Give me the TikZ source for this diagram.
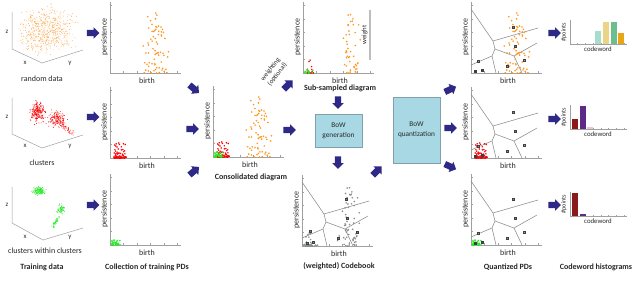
\documentclass[tikz,border=0pt]{standalone}
\usepackage{fontspec}
\setmainfont{Carlito}
\usetikzlibrary{shapes.arrows}
\definecolor{arrowc}{RGB}{46,40,134}
\definecolor{boxf}{RGB}{168,216,228}
\definecolor{boxd}{RGB}{130,160,170}
\definecolor{axc}{RGB}{160,160,160}
\definecolor{vorc}{RGB}{140,140,140}
\definecolor{txtc}{RGB}{40,40,40}
\definecolor{cOr}{RGB}{192,128,40}
\definecolor{cGr}{RGB}{80,150,110}
\definecolor{cYe}{RGB}{200,160,70}
\definecolor{cTe}{RGB}{90,160,180}
\definecolor{cPi}{RGB}{150,150,160}
\definecolor{cPu}{RGB}{70,40,140}
\definecolor{cDr}{RGB}{120,20,20}
\definecolor{tealc}{RGB}{42,163,179}
\definecolor{orpt}{RGB}{255,150,30}
\definecolor{lorpt}{RGB}{255,175,90}
\definecolor{redpt}{RGB}{250,0,0}
\definecolor{grpt}{RGB}{40,235,40}
\definecolor{hTe}{RGB}{168,220,203}
\definecolor{hYe}{RGB}{233,213,133}
\definecolor{hGr}{RGB}{107,191,142}
\definecolor{hOr}{RGB}{232,165,22}
\definecolor{hDr}{RGB}{139,26,26}
\definecolor{hPu}{RGB}{92,42,135}
\definecolor{hPi}{RGB}{232,198,212}

\tikzset{
  axisl/.style={draw=axc, line width=0.5pt},
  vorl/.style={draw=vorc, line width=0.55pt},
  lab/.style={font=\fontsize{8}{9}\selectfont, text=txtc, inner sep=0pt},
  slab/.style={font=\fontsize{6.8}{8}\selectfont, text=txtc, inner sep=0pt},
  tinylab/.style={font=\fontsize{6.2}{7}\selectfont, text=txtc, inner sep=0pt},
  capl/.style={font=\fontsize{8}{9}\selectfont, text=txtc, inner sep=0pt},
  bcap/.style={font=\bfseries\fontsize{8}{9}\selectfont, text=txtc, inner sep=0pt},
  barrow/.style={single arrow, fill=arrowc, draw=none, minimum height=12.5pt,
    minimum width=11pt, single arrow head extend=2.5pt, inner xsep=0pt,
    inner ysep=3pt},
  bowbox/.style={draw=boxd, fill=boxf, line width=0.6pt, align=center,
    font=\fontsize{7.3}{10}\selectfont, text=txtc},
  ctr/.style={draw=black!75, line width=0.2pt},
}

% PD axes: name, ox, oy
\newcommand\pdaxes[3]{%
  \draw[axisl] (#2,#3-71) -- (#2,#3) -- (#2+71,#3);
  \foreach \k in {1,...,5}{%
    \draw[axisl] (#2,#3-\k*13.5) -- ++(1.5,0);
    \draw[axisl] (#2+\k*13.5,#3) -- ++(0,-1.5);}
  \node[lab,rotate=90] (#1-p) at (#2-5.5,#3-36) {persistence};
  \node[lab] (#1-b) at (#2+37,#3+7.5) {birth};
}
% orange PD points: ox, oy, seed, n, colour
\newcommand\orangepts[5]{%
  \pgfmathsetseed{#3}%
  \foreach \i in {1,...,#4}{%
    \pgfmathsetmacro\ddy{62*rnd^1.5}%
    \pgfmathsetmacro\ddx{47+(15-8*\ddy/62)*(rnd+rnd+rnd-1.5)}%
    \fill[#5] (#1+\ddx,#2-\ddy) circle (0.9);}
}
% red PD points
\newcommand\redpts[5]{%
  \pgfmathsetseed{#3}%
  \foreach \i in {1,...,#4}{%
    \pgfmathsetmacro\ddx{4+12*rnd^1.6}%
    \pgfmathsetmacro\ddy{15*rnd^3}%
    \fill[#5] (#1+\ddx,#2-\ddy) circle (0.85);}
}
% green PD points
\newcommand\greenpts[5]{%
  \pgfmathsetseed{#3}%
  \foreach \i in {1,...,#4}{%
    \pgfmathsetmacro\ddx{1.5+9*rnd^1.3}%
    \pgfmathsetmacro\ddy{5*rnd^2}%
    \fill[#5] (#1+\ddx,#2-\ddy) circle (0.85);}
}
% Voronoi cells of the codebook
\newcommand\voronoi[2]{%
  \begin{scope}[shift={(#1,#2)}]
    \draw[vorl] (0,-64) -- (22,-32) -- (67,-45);
    \draw[vorl] (22,-32) -- (24,-24) -- (43,-17) -- (66,-30);
    \draw[vorl] (43,-17) -- (51,0);
    \draw[vorl] (24,-24) -- (21,-17) -- (0,-8);
    \draw[vorl] (21,-17) -- (25,0);
  \end{scope}}
% coloured codeword centres
\newcommand\qcenters[2]{%
  \foreach \cx/\cy/\ccol in {42/46/cOr,44/27/cGr,53/13/cYe,36/7/cTe,7/12/cPi,11/3/cPu,4/2/cDr}{%
    \filldraw[ctr, fill=\ccol] (#1+\cx-0.9,#2-\cy-0.9) rectangle ++(1.8,1.8);}}
\newcommand\tcenters[2]{%
  \foreach \cx/\cy in {44/47,45/28,55/14,36/8,8/15,11/4,5/3}{%
    \filldraw[ctr, fill=tealc] (#1+\cx-1,#2-\cy-1) rectangle ++(2,2);}}
% histogram axes: name, oy
\newcommand\histax[2]{%
  \draw[axisl] (570,#2-24) -- (570,#2) -- (627,#2);
  \foreach \k in {1,...,3}{\draw[axisl] (570,#2-\k*7) -- ++(1.3,0);}
  \foreach \k in {1,...,7}{\draw[axisl] (570+\k*7.7,#2) -- ++(0,-1.3);}
  \node[tinylab,rotate=90] (#1-p) at (564,#2-12) {\#points};
  \node[slab] (#1-c) at (598,#2+5.5) {codeword};
}

\begin{document}
\begin{tikzpicture}[x=1pt,y=-1pt]
\useasboundingbox (0,0) rectangle (640,288);
\fill[white] (0,0) rectangle (640,288);

%% ---------- training data (3D) ----------
\draw[axisl] (12,12) -- (12,49) -- (42,63) -- (83,50);
\node[slab] (z1) at (7,32) {z};
\node[slab] (x1) at (25,63) {x};
\node[slab] (y1) at (70,63) {y};
\pgfmathsetseed{11}
\foreach \i in {1,...,550}{%
  \pgfmathsetmacro\ra{0.05+0.9*rnd}%
  \pgfmathsetmacro\rb{0.05+0.9*rnd}%
  \pgfmathsetmacro\rc{0.06+0.88*rnd}%
  \fill[lorpt] (42-30*\ra+40*\rb, 62-14*\ra-13*\rb-37*\rc) circle (0.45);}
\node[capl] (t1) at (42,79) {random data};

\draw[axisl] (12,98) -- (12,134) -- (42,148) -- (83,135);
\node[slab] (z2) at (7,117) {z};
\node[slab] (x2) at (25,146) {x};
\node[slab] (y2) at (70,146) {y};
\pgfmathsetseed{21}
\foreach \i in {1,...,220}{%
  \fill[redpt] (38+7*rnd+7*rnd+7*rnd-10.5, 112+10*rnd+10*rnd+10*rnd-15) circle (0.45);}
\foreach \i in {1,...,150}{%
  \fill[redpt] (57+8*rnd+8*rnd+8*rnd-12, 119+8*rnd+8*rnd+8*rnd-12) circle (0.45);}
\foreach \i in {1,...,50}{%
  \pgfmathsetmacro\tt{rnd}%
  \fill[redpt] (61+12*\tt+3*rnd+3*rnd-3, 123+11*\tt+3*rnd+3*rnd-3) circle (0.45);}
\node[capl] (t2) at (42,163) {clusters};

\draw[axisl] (12,187) -- (12,223) -- (43,240) -- (83,228);
\node[slab] (z3) at (7,205) {z};
\node[slab] (x3) at (25,237) {x};
\node[slab] (y3) at (70,237) {y};
\pgfmathsetseed{31}
\foreach \i in {1,...,150}{%
  \fill[grpt] (39+6*rnd+6*rnd+6*rnd-9, 191+3.5*rnd+3.5*rnd+3.5*rnd-5.25) circle (0.45);}
\foreach \i in {1,...,70}{%
  \fill[grpt] (61+4*rnd+4*rnd+4*rnd-6, 209+4*rnd+4*rnd+4*rnd-6) circle (0.45);}
\foreach \i in {1,...,45}{%
  \pgfmathsetmacro\tt{rnd}%
  \fill[grpt] (52+7*\tt+2*rnd+2*rnd-2, 228-11*\tt+2*rnd+2*rnd-2) circle (0.45);}
\node[capl] (t3) at (45,251) {clusters within clusters};
\node[bcap] (h1) at (42,267) {Training data};

%% ---------- training PDs ----------
\pdaxes{pd1}{110}{73}
\orangepts{110}{73}{101}{70}{orpt}
\pdaxes{pd2}{110}{158}
\redpts{110}{158}{202}{70}{redpt}
\pdaxes{pd3}{110}{245}
\greenpts{110}{245}{303}{45}{grpt}
\node[bcap] (h2) at (147,267) {Collection of training PDs};

%% ---------- consolidated ----------
\pdaxes{cons}{213}{157}
\orangepts{213}{157}{101}{70}{orpt}
\redpts{213}{157}{202}{70}{redpt}
\greenpts{213}{157}{303}{45}{grpt}
\node[bcap] (h3) at (251,177) {Consolidated diagram};

%% ---------- sub-sampled ----------
\pdaxes{sub}{303}{73}
\orangepts{303}{73}{404}{45}{orpt}
\redpts{303}{73}{505}{16}{redpt}
\greenpts{303}{73}{606}{14}{grpt}
\draw[draw=axc!70, line width=1.3pt] (370,10) -- (370,60);
\node[slab,rotate=90] (wlab) at (364.5,35) {weight};
\node[bcap] (h4) at (340,88) {Sub-sampled diagram};
\node[font=\fontsize{6.8}{8.6}\selectfont, text=txtc, inner sep=0pt, rotate=52, align=center] (wt) at (274,72) {weighting\\(optional)};

%% ---------- BoW boxes ----------
\node[bowbox, minimum width=47pt, minimum height=33pt] (gen) at (338.5,130.5) {BoW\\generation};
\node[bowbox, minimum width=47pt, minimum height=66pt] (quant) at (416.5,130) {BoW\\quantization};

%% ---------- codebook ----------
\pdaxes{cb}{302}{246}
\voronoi{302}{246}
\orangepts{302}{246}{404}{60}{black!45}
\redpts{302}{246}{505}{35}{black!45}
\greenpts{302}{246}{606}{12}{black!45}
\tcenters{302}{246}
\node[bcap] (h5) at (339,266) {(weighted) Codebook};

%% ---------- quantized PDs ----------
\pdaxes{q1}{471}{73}
\voronoi{471}{73}
\orangepts{471}{73}{101}{70}{orpt}
\qcenters{471}{73}
\pdaxes{q2}{471}{158}
\voronoi{471}{158}
\redpts{471}{158}{202}{70}{redpt}
\qcenters{471}{158}
\pdaxes{q3}{471}{245}
\voronoi{471}{245}
\greenpts{471}{245}{303}{45}{grpt}
\qcenters{471}{245}
\node[bcap] (h6) at (508,267) {Quantized PDs};

%% ---------- histograms ----------
\histax{hi1}{44}
\fill[hTe] (595,31) rectangle (601,44);
\fill[hYe] (603,22) rectangle (609,44);
\fill[hGr] (611,22) rectangle (617,44);
\fill[hOr] (618,33) rectangle (624,44);
\histax{hi2}{129}
\fill[hDr] (572,119) rectangle (578,129);
\fill[hPu] (580,106) rectangle (586,129);
\fill[hPi] (587,127) rectangle (593,129);
\histax{hi3}{216}
\fill[hDr] (572,193) rectangle (578,216);
\fill[hPu] (580,214) rectangle (586,216);
\node[bcap] (h7) at (596,267) {Codeword histograms};

%% ---------- block arrows ----------
\node[barrow] (a1) at (91.5,33) {};
\node[barrow] (a2) at (91.5,117) {};
\node[barrow] (a3) at (91.5,205) {};
\node[barrow,rotate=-40] (a4) at (193,88) {};
\node[barrow] (a5) at (191,129) {};
\node[barrow,rotate=40] (a6) at (193,172) {};
\node[barrow,rotate=45] (a7) at (287,86) {};
\node[barrow,rotate=-90] (a8) at (338,101) {};
\node[barrow] (a9) at (288,130) {};
\node[barrow,rotate=-90] (a10) at (338,161) {};
\node[barrow,rotate=45] (a11) at (376,172) {};
\node[barrow,rotate=25] (a12) at (449,90) {};
\node[barrow] (a13) at (449,128) {};
\node[barrow,rotate=-25] (a14) at (449,166) {};
\node[barrow] (a15) at (553,33) {};
\node[barrow] (a16) at (553,119) {};
\node[barrow] (a17) at (553,205) {};
\end{tikzpicture}
\end{document}
